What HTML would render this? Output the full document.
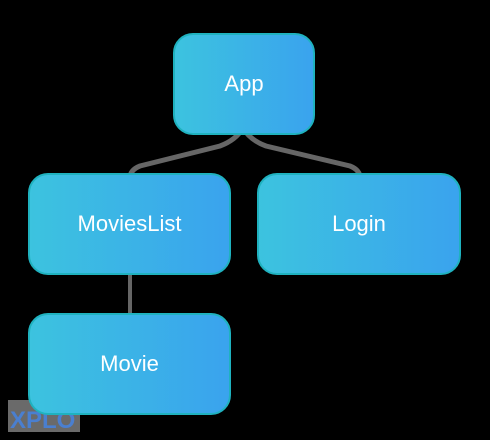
<!DOCTYPE html>
<html><head><style>
html,body{margin:0;padding:0;background:#000;width:490px;height:440px;overflow:hidden}
.b{position:absolute;box-sizing:border-box;border:2px solid #1fb2bf;border-radius:20px;background:linear-gradient(90deg,#3cc3df,#3aa3ee);color:#fff;font-family:"Liberation Sans",sans-serif;font-size:22px;display:flex;align-items:center;justify-content:center}
</style></head><body>
<svg width="490" height="440" style="position:absolute;left:0;top:0">
<path d="M243 128 Q236 140 220 146 L140 166 Q130 170 130 178" stroke="#666" stroke-width="5" fill="none"/>
<path d="M243 128 Q250 140 266 146 L350 166 Q360 170 360 178" stroke="#666" stroke-width="5" fill="none"/>
<line x1="130" y1="260" x2="130" y2="320" stroke="#666" stroke-width="4"/>
<rect x="8" y="400" width="72" height="32" fill="#6a6a6a"/>
<text x="10" y="428" font-family="Liberation Sans" font-size="24" font-weight="bold" fill="#4a7fd0">XPLO</text>
</svg>
<div class="b" style="left:173px;top:33px;width:142px;height:102px">App</div>
<div class="b" style="left:28px;top:173px;width:203px;height:102px">MoviesList</div>
<div class="b" style="left:257px;top:173px;width:204px;height:102px">Login</div>
<div class="b" style="left:28px;top:313px;width:203px;height:102px">Movie</div>
</body></html>
